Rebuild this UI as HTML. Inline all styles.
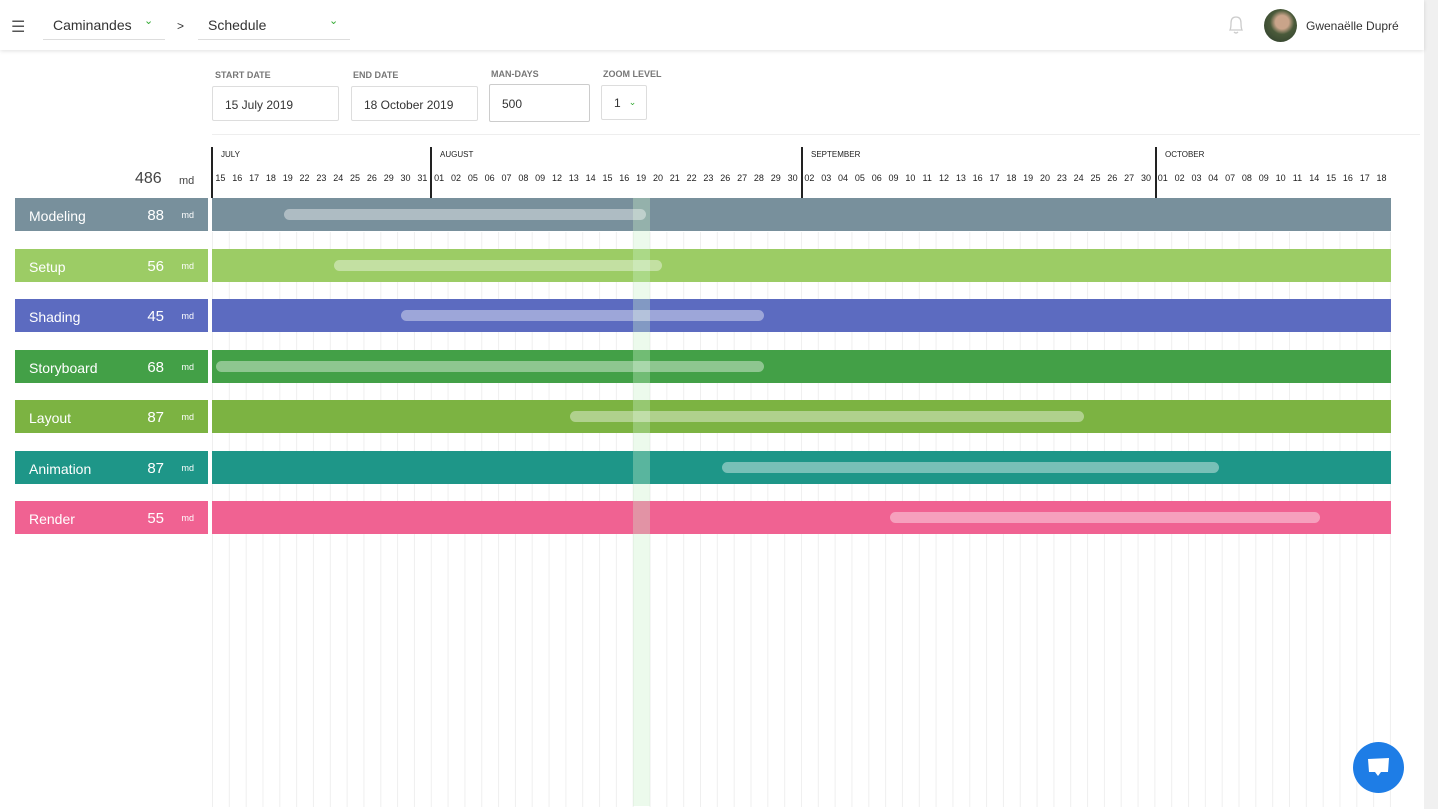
<!DOCTYPE html>
<html><head><meta charset="utf-8"><style>
*{box-sizing:border-box;margin:0;padding:0}
body{width:1438px;height:809px;overflow:hidden;background:#fff;font-family:"Liberation Sans",sans-serif;color:#333;position:relative}
.hdr{position:absolute;left:0;top:0;width:1424px;height:50px;background:#fff;box-shadow:0 1px 4px rgba(0,0,0,.12);z-index:5}
.sb{position:absolute;right:0;top:0;width:14px;height:809px;background:#f0f0f0}
.abs{position:absolute}
.lbl{position:absolute;font-size:9px;color:#777;font-weight:bold}
.inp{position:absolute;border:1px solid #ddd;border-radius:2px;font-size:12px;color:#333;padding-left:12px;display:flex;align-items:center}
.grid{position:absolute;left:212px;top:232px;width:1180px;height:575px;background-image:linear-gradient(90deg,#efefef 0,#efefef 1px,transparent 1px);background-size:16.843px 100%}
.hl{position:absolute;left:633px;top:198px;width:17px;height:608px;background:rgba(200,240,200,.35);z-index:3}
.days{position:absolute;left:212px;top:173px;display:flex;font-size:9px;color:#222}
.days span{width:16.843px;text-align:center}
.ml{position:absolute;top:147px;width:2px;height:51px;background:#222}
.mn{position:absolute;top:150px;font-size:8px;color:#222}
.row{position:absolute;left:15px;height:33px;color:#fff}
.row .name{position:absolute;left:14px;top:10px;font-size:14px}
.row .num{position:absolute;right:44px;top:9px;font-size:15px}
.row .md{position:absolute;right:14px;top:12px;font-size:9px}
.bar{position:absolute;left:212px;width:1179px;height:33px}
.pill{position:absolute;height:11px;border-radius:6px;background:rgba(255,255,255,.4);z-index:4}
</style></head><body>
<div class="hdr">
<div class="abs" style="left:11px;top:17px;font-size:16px;color:#555">☰</div>
<div class="abs" style="left:43px;top:39px;width:122px;height:1px;background:#ddd"></div>
<div class="abs" style="left:53px;top:17px;font-size:14px">Caminandes</div>
<div class="abs" style="left:144px;top:14px;font-size:11px;color:#3a3">⌄</div>
<div class="abs" style="left:177px;top:19px;font-size:12px">&gt;</div>
<div class="abs" style="left:198px;top:39px;width:152px;height:1px;background:#ddd"></div>
<div class="abs" style="left:208px;top:17px;font-size:14px">Schedule</div>
<div class="abs" style="left:329px;top:14px;font-size:11px;color:#3a3">⌄</div>
<svg class="abs" style="left:1226px;top:14px" width="20" height="22"><path d="M4 16 Q5 14 5 9 Q5 3 10 3 Q15 3 15 9 Q15 14 16 16 Z M8 18 Q10 20 12 18" fill="none" stroke="#ccc" stroke-width="1.3"/></svg>
<div class="abs" style="left:1264px;top:9px;width:33px;height:33px;border-radius:50%;background:radial-gradient(circle at 55% 40%,#c9a48a 0 25%,#4a5a3a 45%,#2a3a2a 100%)"></div>
<div class="abs" style="left:1306px;top:19px;font-size:12px;color:#333">Gwenaëlle Dupré</div>
</div>
<div class="sb"></div>
<div class="lbl" style="left:215px;top:70px">START DATE</div>
<div class="lbl" style="left:353px;top:70px">END DATE</div>
<div class="lbl" style="left:491px;top:69px">MAN-DAYS</div>
<div class="lbl" style="left:603px;top:69px">ZOOM LEVEL</div>
<div class="inp" style="left:212px;top:86px;width:127px;height:35px;padding-top:2px">15 July 2019</div>
<div class="inp" style="left:351px;top:86px;width:127px;height:35px;padding-top:2px">18 October 2019</div>
<div class="inp" style="left:489px;top:84px;width:101px;height:38px;border-color:#ccc;padding-top:2px">500</div>
<div class="inp" style="left:601px;top:85px;width:46px;height:35px">1 <span style="color:#3a3;font-size:9px;margin-left:8px">⌄</span></div>
<div class="abs" style="left:212px;top:134px;width:1208px;height:1px;background:#eee"></div>
<div class="abs" style="left:135px;top:170px;font-size:16px;color:#444">486</div>
<div class="abs" style="left:179px;top:175px;font-size:11px;color:#444">md</div>
<div class="grid"></div>
<div class="hl"></div>
<div class="ml" style="left:211px"></div><div class="mn" style="left:221px">JULY</div>
<div class="ml" style="left:430px"></div><div class="mn" style="left:440px">AUGUST</div>
<div class="ml" style="left:801px"></div><div class="mn" style="left:811px">SEPTEMBER</div>
<div class="ml" style="left:1155px"></div><div class="mn" style="left:1165px">OCTOBER</div>
<div class="days"><span>15</span><span>16</span><span>17</span><span>18</span><span>19</span><span>22</span><span>23</span><span>24</span><span>25</span><span>26</span><span>29</span><span>30</span><span>31</span><span>01</span><span>02</span><span>05</span><span>06</span><span>07</span><span>08</span><span>09</span><span>12</span><span>13</span><span>14</span><span>15</span><span>16</span><span>19</span><span>20</span><span>21</span><span>22</span><span>23</span><span>26</span><span>27</span><span>28</span><span>29</span><span>30</span><span>02</span><span>03</span><span>04</span><span>05</span><span>06</span><span>09</span><span>10</span><span>11</span><span>12</span><span>13</span><span>16</span><span>17</span><span>18</span><span>19</span><span>20</span><span>23</span><span>24</span><span>25</span><span>26</span><span>27</span><span>30</span><span>01</span><span>02</span><span>03</span><span>04</span><span>07</span><span>08</span><span>09</span><span>10</span><span>11</span><span>14</span><span>15</span><span>16</span><span>17</span><span>18</span></div>

<div class="row" style="top:198px;width:193px;background:#78909c"><span class="name">Modeling</span><span class="num">88</span><span class="md">md</span></div>
<div class="bar" style="top:198px;background:#78909c"></div><div class="pill" style="top:209px;left:284px;width:362px"></div>
<div class="row" style="top:249px;width:193px;background:#9ccc65"><span class="name">Setup</span><span class="num">56</span><span class="md">md</span></div>
<div class="bar" style="top:249px;background:#9ccc65"></div><div class="pill" style="top:260px;left:334px;width:328px"></div>
<div class="row" style="top:299px;width:193px;background:#5c6bc0"><span class="name">Shading</span><span class="num">45</span><span class="md">md</span></div>
<div class="bar" style="top:299px;background:#5c6bc0"></div><div class="pill" style="top:310px;left:401px;width:363px"></div>
<div class="row" style="top:350px;width:193px;background:#43a047"><span class="name">Storyboard</span><span class="num">68</span><span class="md">md</span></div>
<div class="bar" style="top:350px;background:#43a047"></div><div class="pill" style="top:361px;left:216px;width:548px"></div>
<div class="row" style="top:400px;width:193px;background:#7cb342"><span class="name">Layout</span><span class="num">87</span><span class="md">md</span></div>
<div class="bar" style="top:400px;background:#7cb342"></div><div class="pill" style="top:411px;left:570px;width:514px"></div>
<div class="row" style="top:451px;width:193px;background:#1e9688"><span class="name">Animation</span><span class="num">87</span><span class="md">md</span></div>
<div class="bar" style="top:451px;background:#1e9688"></div><div class="pill" style="top:462px;left:722px;width:497px"></div>
<div class="row" style="top:501px;width:193px;background:#f06292"><span class="name">Render</span><span class="num">55</span><span class="md">md</span></div>
<div class="bar" style="top:501px;background:#f06292"></div><div class="pill" style="top:512px;left:890px;width:430px"></div>

<div class="abs" style="left:1353px;top:742px;width:51px;height:51px;border-radius:50%;background:#1e7de6;z-index:6">
<svg width="51" height="51"><path d="M15 17 L36 16 L35 30 L28 30 L25 34 L22 30 L16 30 Z" fill="#fff"/></svg></div>
</body></html>
